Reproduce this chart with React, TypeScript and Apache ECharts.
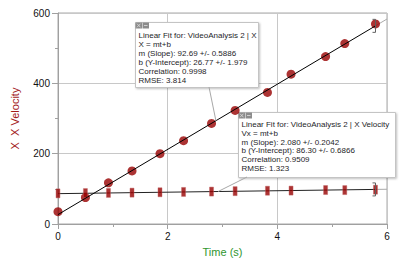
import React, { useEffect, useRef } from "react";
import * as echarts from "echarts";

// Time (s)
const times = [0, 0.5, 0.92, 1.35, 1.86, 2.29, 2.8, 3.23, 3.82, 4.25, 4.88, 5.23, 5.79];
// X position
const position = [35, 75, 117, 151, 200, 237, 286, 323, 374, 426, 476, 513, 569];
// X velocity
const velocity = [87.1, 88.0, 88.4, 89.2, 90.2, 91.2, 92.2, 93.4, 94.6, 95.0, 96.6, 96.4, 97.6];

// Linear fit parameters
const posSlope = 92.69;
const posIntercept = 26.77;
const velSlope = 2.08;
const velIntercept = 86.3;

const fitStart = 0;
const fitEnd = 5.79;
const axisEnd = 6;

const posFitLines = [
  "Linear Fit for: VideoAnalysis 2 | X",
  "X = mt+b",
  "m (Slope): 92.69 +/- 0.5886",
  "b (Y-Intercept): 26.77 +/- 1.979",
  "Correlation: 0.9998",
  "RMSE: 3.814",
];
const velFitLines = [
  "Linear Fit for: VideoAnalysis 2 | X Velocity",
  "Vx = mt+b",
  "m (Slope): 2.080 +/- 0.2042",
  "b (Y-Intercept): 86.30 +/- 0.6866",
  "Correlation: 0.9509",
  "RMSE: 1.323",
];

const RED = "#970000";
const FONT = '"Liberation Sans", Arial, sans-serif';

function fit(m: number, b: number, t: number) {
  return m * t + b;
}

function makeBox(x: number, y: number, w: number, h: number, lines: string[], lh: number) {
  const ix = x + 0.5;
  const iy = y + 0.5;
  return {
    type: "group",
    z: 100,
    children: [
      {
        type: "rect",
        shape: { x: x + 0.5, y: y + 0.5, width: w, height: h },
        style: {
          fill: "#ffffff",
          stroke: "#c4c4c4",
          lineWidth: 1,
          shadowBlur: 2,
          shadowOffsetX: 1,
          shadowOffsetY: 1,
          shadowColor: "rgba(0,0,0,0.25)",
        },
      },
      { type: "rect", shape: { x: ix, y: iy, width: 6.5, height: 6 }, style: { fill: "#8c8c8c" } },
      { type: "rect", shape: { x: ix + 7, y: iy, width: 6.5, height: 6 }, style: { fill: "#8c8c8c" } },
      { type: "line", shape: { x1: ix + 1.5, y1: iy + 1.2, x2: ix + 5, y2: iy + 4.8 }, style: { stroke: "#e0e0e0", lineWidth: 0.8 } },
      { type: "line", shape: { x1: ix + 5, y1: iy + 1.2, x2: ix + 1.5, y2: iy + 4.8 }, style: { stroke: "#e0e0e0", lineWidth: 0.8 } },
      { type: "line", shape: { x1: ix + 8.5, y1: iy + 3, x2: ix + 12, y2: iy + 3 }, style: { stroke: "#e0e0e0", lineWidth: 0.8 } },
      {
        type: "text",
        style: {
          x: x + 3.5,
          y: y + 8.5,
          text: lines.join("\n"),
          font: `8px ${FONT}`,
          lineHeight: lh,
          fill: "#1e1e28",
          verticalAlign: "top",
          align: "left",
        },
      },
    ],
  };
}

function bracket(p: number[]) {
  const x = Math.round(p[0]) + 0.5;
  const y = p[1];
  return {
    type: "polyline",
    z: 95,
    shape: {
      points: [
        [x - 3, y - 6.5],
        [x, y - 6.5],
        [x, y + 6.5],
        [x - 3, y + 6.5],
      ],
    },
    style: { stroke: "#606060", lineWidth: 1, fill: "none" },
  };
}

export default function App() {
  const ref = useRef<HTMLDivElement>(null);
  useEffect(() => {
    if (!ref.current) return;
    const chart = echarts.init(ref.current, undefined, { renderer: "svg" });
    const posData = times.map((t, i) => [t, position[i]]);
    const velData = times.map((t, i) => [t, velocity[i]]);
    const option: any = {
      animation: false,
      grid: {
        left: 58,
        top: 13,
        right: 13,
        bottom: 41,
        show: true,
        borderColor: "#a8a8a8",
        borderWidth: 1,
        backgroundColor: "transparent",
      },
      xAxis: {
        type: "value",
        min: 0,
        max: 6,
        interval: 2,
        axisLine: { show: true, onZero: false, lineStyle: { color: "#a0a0a0" } },
        axisTick: { show: true, length: 5, lineStyle: { color: "#a0a0a0" } },
        minorTick: { show: true, splitNumber: 2, length: 3, lineStyle: { color: "#a0a0a0" } },
        splitLine: { show: true, lineStyle: { color: "#c8c8c8" } },
        axisLabel: { color: "#111", fontSize: 10, margin: 7, fontFamily: FONT },
        name: "Time (s)",
        nameLocation: "middle",
        nameGap: 22,
        nameTextStyle: { color: "#2f962f", fontSize: 11, fontFamily: FONT },
      },
      yAxis: {
        type: "value",
        min: 0,
        max: 600,
        interval: 200,
        axisLine: { show: true, onZero: false, lineStyle: { color: "#a0a0a0" } },
        axisTick: { show: true, length: 6, lineStyle: { color: "#a0a0a0" } },
        minorTick: { show: true, splitNumber: 2, length: 3, lineStyle: { color: "#a0a0a0" } },
        splitLine: { show: true, lineStyle: { color: "#c8c8c8" } },
        axisLabel: { color: "#111", fontSize: 10, margin: 8, fontFamily: FONT },
        name: "X  X Velocity",
        nameLocation: "middle",
        nameGap: 38,
        nameTextStyle: { color: "#a31a1a", fontSize: 11, fontFamily: FONT },
      },
      series: [
        {
          type: "scatter",
          data: posData,
          symbol: "circle",
          symbolSize: 9,
          itemStyle: { color: RED },
          z: 3,
        },
        {
          type: "line",
          data: [
            [fitStart, fit(posSlope, posIntercept, fitStart)],
            [fitEnd, fit(posSlope, posIntercept, fitEnd)],
          ],
          symbol: "none",
          lineStyle: { color: "#000", width: 1 },
          z: 4,
        },
        {
          type: "line",
          data: [
            [fitEnd, fit(posSlope, posIntercept, fitEnd)],
            [axisEnd, fit(posSlope, posIntercept, axisEnd)],
          ],
          symbol: "none",
          lineStyle: { color: "#aaa", width: 1 },
          z: 2,
        },
        {
          type: "line",
          data: [
            [fitStart, fit(velSlope, velIntercept, fitStart)],
            [fitEnd, fit(velSlope, velIntercept, fitEnd)],
          ],
          symbol: "none",
          lineStyle: { color: "#222", width: 1 },
          z: 2,
        },
        {
          type: "line",
          data: [
            [fitEnd, fit(velSlope, velIntercept, fitEnd)],
            [axisEnd, fit(velSlope, velIntercept, axisEnd)],
          ],
          symbol: "none",
          lineStyle: { color: "#aaa", width: 1 },
          z: 2,
        },
        {
          type: "scatter",
          data: velData,
          symbol: "rect",
          symbolSize: [4, 9],
          itemStyle: { color: RED, borderColor: "#c06060", borderWidth: 0.5 },
          z: 3,
        },
      ],
    };
    chart.setOption(option);
    const px = (t: number, v: number) => chart.convertToPixel({ gridIndex: 0 }, [t, v]) as number[];
    const p1 = px(2.88, fit(posSlope, posIntercept, 2.88));
    const p2 = px(2.92, fit(velSlope, velIntercept, 2.92));
    const b1 = px(fitEnd, fit(posSlope, posIntercept, fitEnd));
    const b2 = px(fitEnd, fit(velSlope, velIntercept, fitEnd));
    chart.setOption({
      graphic: [
        bracket(b1),
        bracket(b2),
        {
          type: "line",
          z: 90,
          shape: { x1: 209, y1: 87, x2: p1[0], y2: p1[1] },
          style: { stroke: "#a8a8a8", lineWidth: 1 },
        },
        {
          type: "line",
          z: 90,
          shape: { x1: 247, y1: 177, x2: p2[0], y2: p2[1] },
          style: { stroke: "#a8a8a8", lineWidth: 1 },
        },
        makeBox(135, 22, 123, 65, posFitLines, 9.1),
        makeBox(238, 112, 157, 65, velFitLines, 8.7),
      ],
    });
    return () => chart.dispose();
  }, []);
  return (
    <div
      ref={ref}
      style={{ position: "absolute", left: 0, top: 0, width: 400, height: 265, background: "#fff" }}
    />
  );
}
